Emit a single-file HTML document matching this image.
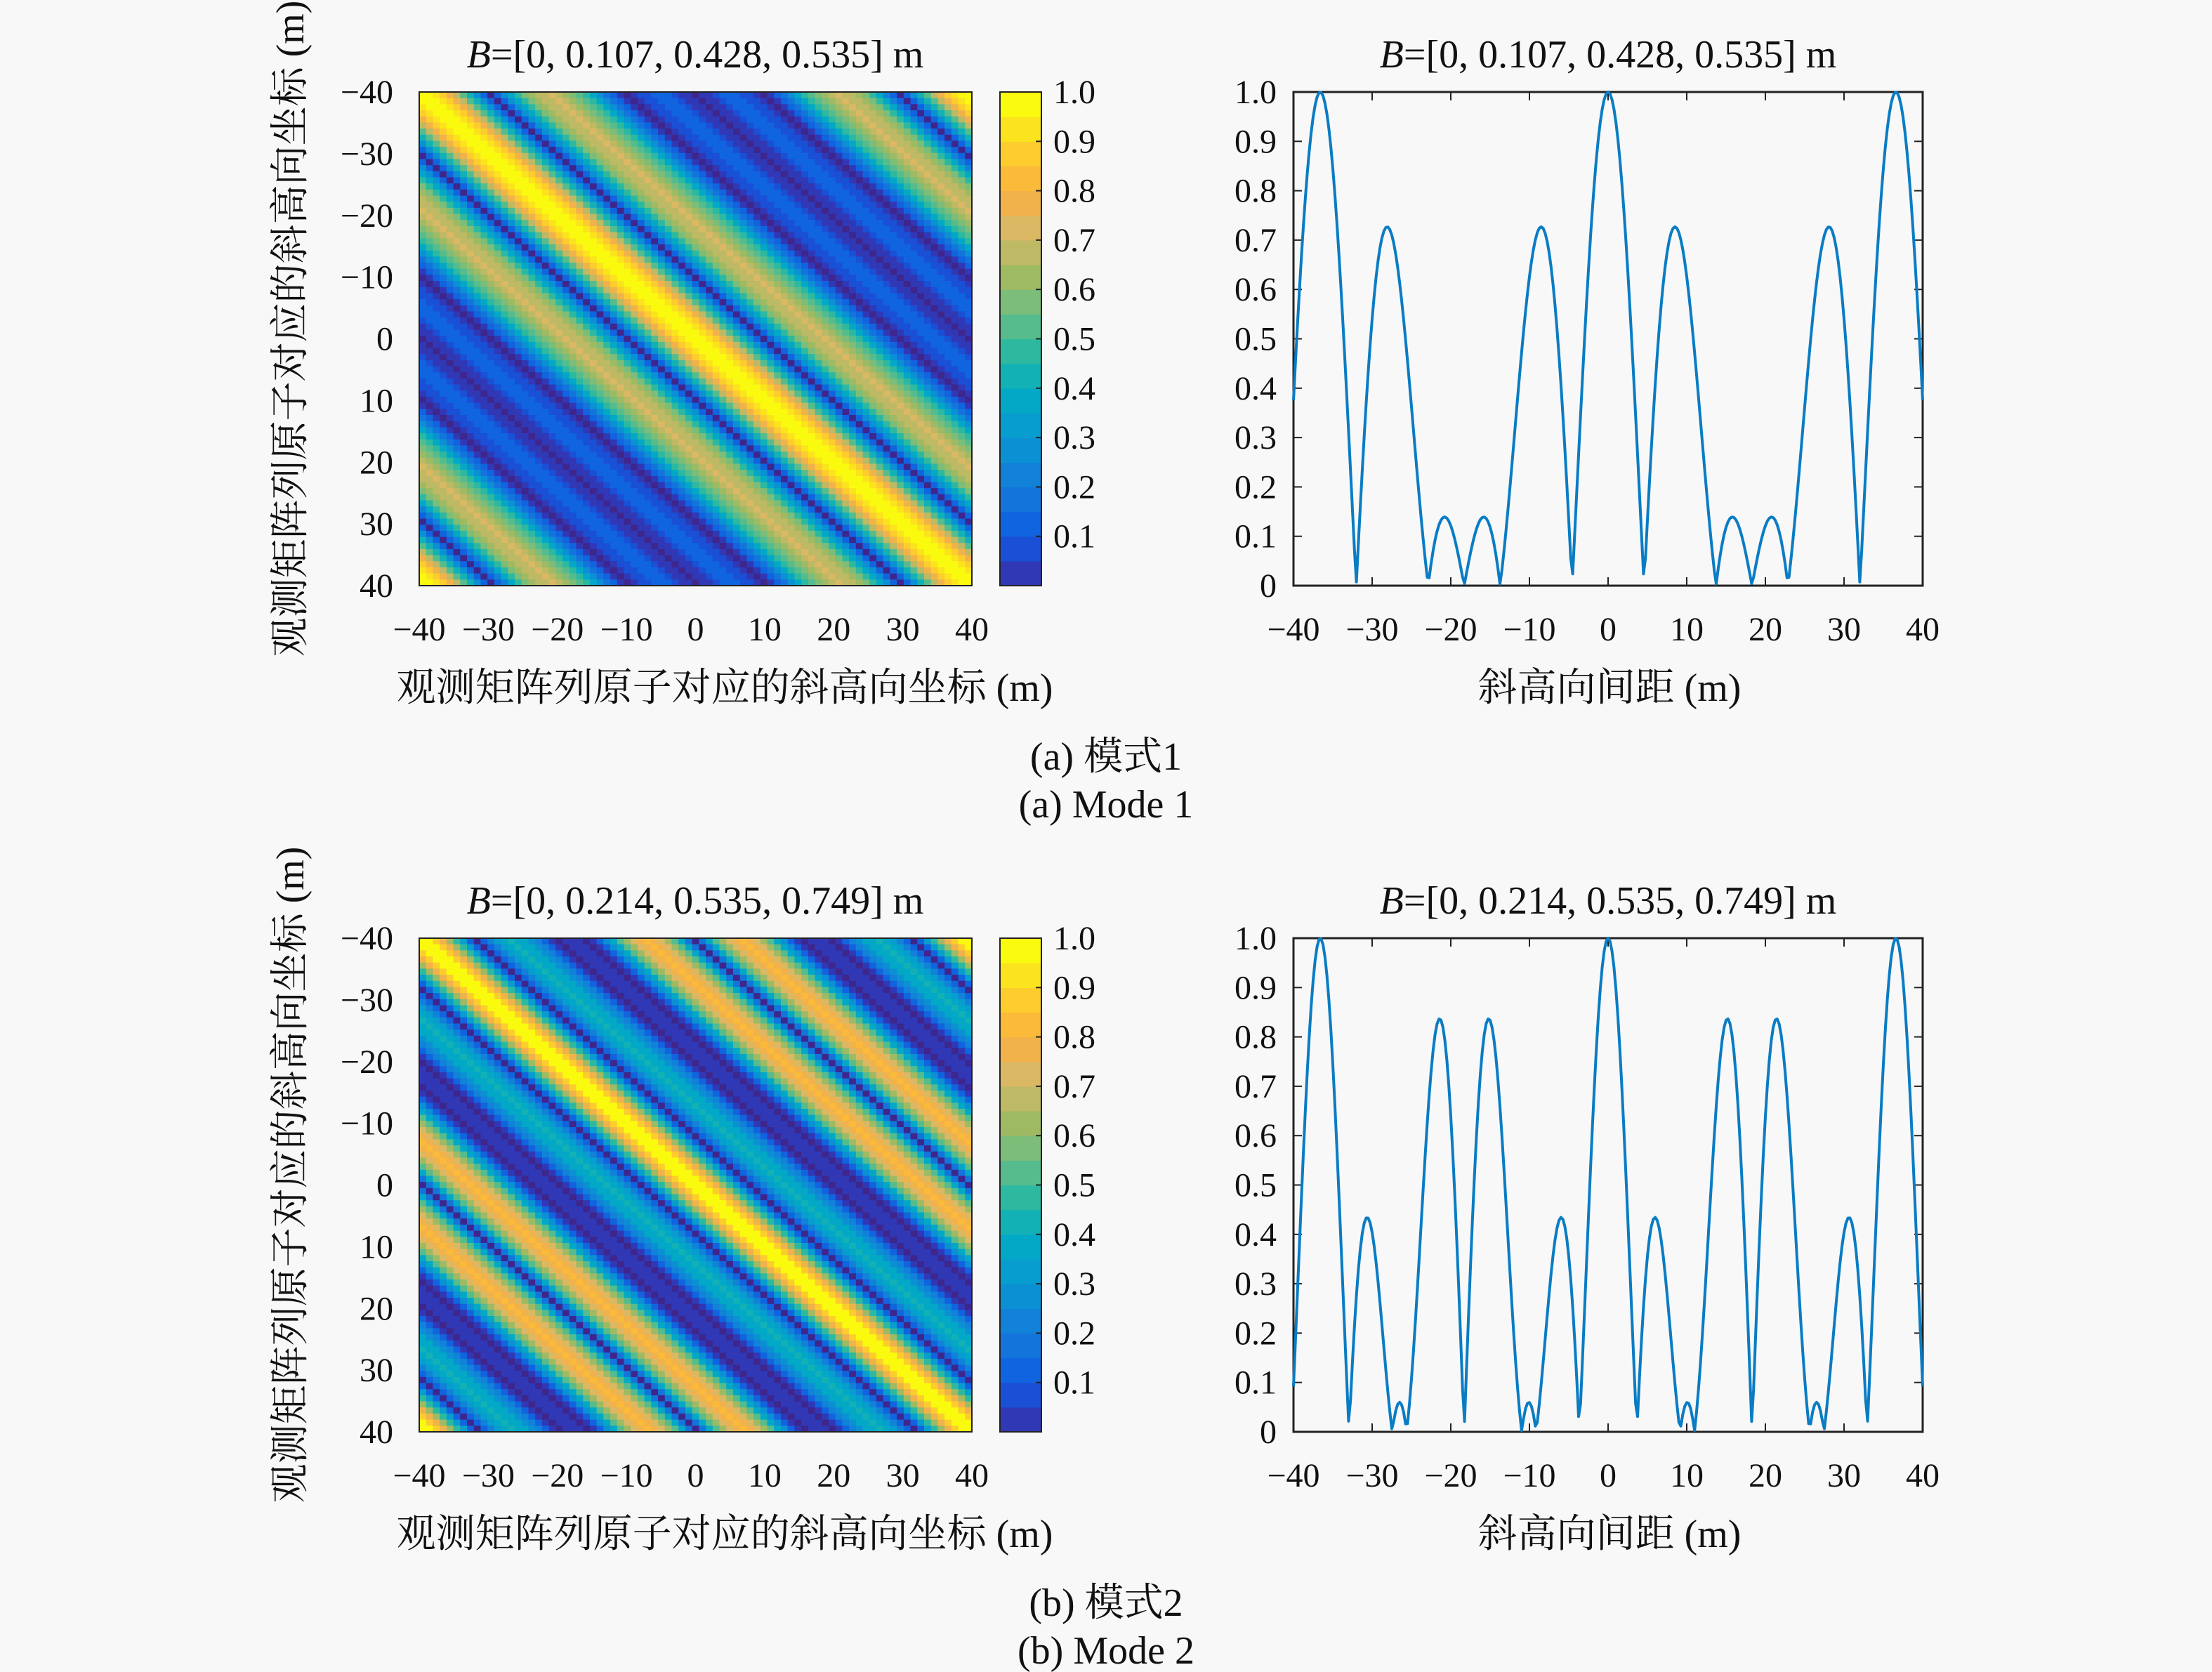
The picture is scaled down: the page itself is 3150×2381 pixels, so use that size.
<!DOCTYPE html>
<html><head><meta charset="utf-8">
<style>
html,body{margin:0;padding:0;background:#f8f8f8;}
svg{display:block;}
text{font-family:"Liberation Serif","Noto Serif CJK SC",serif;fill:#111;}
</style></head>
<body>
<svg id="fig" width="3150" height="2381" viewBox="0 0 3150 2381" xmlns="http://www.w3.org/2000/svg">
<rect x="0" y="0" width="3150" height="2381" fill="#f8f8f8"/>
</svg>
<script>
// ---- data ----
const baselinesMode1 = [0, 0.107, 0.428, 0.535];
const baselinesMode2 = [0, 0.214, 0.535, 0.749];
const titleMode1 = "=[0, 0.107, 0.428, 0.535] m";
const titleMode2 = "=[0, 0.214, 0.535, 0.749] m";
const gridCoords = [];           // heatmap grid (m)
for (let v = -40; v <= 40; v += 1) gridCoords.push(v);
const spacingSamples = [];       // line plot spacings (m)
for (let v = -40; v <= 40.001; v += 0.25) spacingSamples.push(v);
const axisTicks = [-40, -30, -20, -10, 0, 10, 20, 30, 40];
const valueTicks = [0, 0.1, 0.2, 0.3, 0.4, 0.5, 0.6, 0.7, 0.8, 0.9, 1.0];
const valueTickLabels = ["0","0.1","0.2","0.3","0.4","0.5","0.6","0.7","0.8","0.9","1.0"];
const cbTicks = [0.1,0.2,0.3,0.4,0.5,0.6,0.7,0.8,0.9,1.0];
const cbTickLabels = ["0.1","0.2","0.3","0.4","0.5","0.6","0.7","0.8","0.9","1.0"];
const periodScale = 3.916;      // effective wavelength factor
const heatScale = 0.4575;       // heatmap spacing scale

const NS = "http://www.w3.org/2000/svg";
const svg = document.getElementById('fig');
function mk(tag, attrs, parent) {
  const e = document.createElementNS(NS, tag);
  for (const k in attrs) e.setAttribute(k, attrs[k]);
  (parent || svg).appendChild(e);
  return e;
}
function coherence(B, d) {
  let re = 0, im = 0;
  for (const b of B) { const p = 2 * Math.PI * b * d / periodScale; re += Math.cos(p); im += Math.sin(p); }
  return Math.sqrt(re * re + im * im) / B.length;
}
const cmapStops = [
  [0.00,[62,38,140]],[0.06,[45,60,190]],[0.12,[15,90,225]],[0.22,[20,122,218]],
  [0.32,[10,150,210]],[0.42,[0,172,195]],[0.50,[45,185,160]],[0.58,[110,190,130]],
  [0.66,[165,185,95]],[0.74,[215,185,105]],[0.82,[250,175,65]],[0.90,[252,205,45]],[1.00,[250,250,15]]];
function cmap(v) {
  v = Math.round(Math.max(0, Math.min(1, v)) * 20) / 20;
  for (let i = 1; i < cmapStops.length; i++) {
    if (v <= cmapStops[i][0]) {
      const a = cmapStops[i-1], b = cmapStops[i], t = (v - a[0]) / (b[0] - a[0]);
      const c = a[1].map((x, j) => Math.round(x + (b[1][j] - x) * t));
      return `rgb(${c[0]},${c[1]},${c[2]})`;
    }
  }
  return 'rgb(250,250,15)';
}
function txt(x, y, s, attrs, parent) {
  const t = mk('text', Object.assign({x: x, y: y, 'font-size': 48}, attrs || {}), parent);
  t.textContent = s;
  return t;
}
function fmtNeg(v) { return v < 0 ? '\u2212' + Math.abs(v) : String(v); }

function panel(B, title, oy, letter, modeCn, modeEn) {
  const g = mk('g', {});
  
  
  // ---- heatmap ----
  const hx0 = 597, hx1 = 1384, hy0 = 131 + oy, hy1 = 834 + oy;
  const n = gridCoords.length, cw = (hx1 - hx0) / n, ch = (hy1 - hy0) / n;
  const hm = mk('g', {}, g);
  
  
  gridCoords.forEach((yv, i) => {
    gridCoords.forEach((xv, j) => {
      mk('rect', {x: (hx0 + j * cw).toFixed(2), y: (hy0 + i * ch).toFixed(2), width: (cw + 0.6).toFixed(2), height: (ch + 0.6).toFixed(2), fill: cmap(coherence(B, heatScale * (xv - yv)))}, hm);
    });
  });
  const hf = mk('rect', {x: hx0, y: hy0, width: hx1 - hx0, height: hy1 - hy0, fill: 'none', stroke: '#222', 'stroke-width': 2}, g);
  
  
  const hxS = v => hx0 + (v + 40) / 80 * (hx1 - hx0);
  const hyS = v => hy0 + (v + 40) / 80 * (hy1 - hy0);
  axisTicks.forEach(v => {
    const t1 = txt(hxS(v), 912 + oy, fmtNeg(v), {'text-anchor': 'middle'}, g);
    
    
    const t2 = txt(560, hyS(v) + 16, fmtNeg(v), {'text-anchor': 'end'}, g);
    
    
  });
  const ht = txt(990, 96 + oy, '', {'text-anchor': 'middle', 'font-size': 56}, g);
  ht.innerHTML = '<tspan font-style="italic">B</tspan>' + title;
  
  
  const hxl = txt(1032, 998 + oy, '观测矩阵列原子对应的斜高向坐标 (m)', {'text-anchor': 'middle', 'font-size': 56}, g);
  
  
  const hyl = txt(0, 0, '观测矩阵列原子对应的斜高向坐标 (m)', {'text-anchor': 'middle', 'font-size': 56, transform: `translate(432,${468 + oy}) rotate(-90)`}, g);
  
  
  // ---- colorbar ----
  const cx0 = 1424, cx1 = 1483;
  const cb = mk('g', {}, g);
  
  
  for (let k = 0; k < 20; k++) {
    const v0 = k / 20;
    mk('rect', {x: cx0, y: (hy1 - (k + 1) / 20 * (hy1 - hy0)).toFixed(2), width: cx1 - cx0, height: ((hy1 - hy0) / 20 + 0.6).toFixed(2), fill: cmap(v0 + 0.025)}, cb);
  }
  mk('rect', {x: cx0, y: hy0, width: cx1 - cx0, height: hy1 - hy0, fill: 'none', stroke: '#222', 'stroke-width': 2}, cb);
  cbTicks.forEach((v, i) => {
    const y = hy1 - v * (hy1 - hy0);
    mk('line', {x1: cx1 - 8, x2: cx1, y1: y, y2: y, stroke: '#222', 'stroke-width': 2}, cb);
    const l = txt(1500, y + 16, cbTickLabels[i], {}, cb);
    
    
  });
  // ---- line plot ----
  const lx0 = 1842, lx1 = 2738, ly0 = 131 + oy, ly1 = 834 + oy;
  const lxS = v => lx0 + (v + 40) / 80 * (lx1 - lx0);
  const lyS = v => ly1 - v * (ly1 - ly0);
  const lf = mk('rect', {x: lx0, y: ly0, width: lx1 - lx0, height: ly1 - ly0, fill: '#f8f8f8', stroke: '#222', 'stroke-width': 3}, g);
  
  
  axisTicks.forEach(v => {
    const x = lxS(v);
    mk('line', {x1: x, x2: x, y1: ly1, y2: ly1 - 12, stroke: '#222', 'stroke-width': 2}, g);
    mk('line', {x1: x, x2: x, y1: ly0, y2: ly0 + 12, stroke: '#222', 'stroke-width': 2}, g);
    const t = txt(x, 912 + oy, fmtNeg(v), {'text-anchor': 'middle'}, g);
    
    
  });
  valueTicks.forEach((v, i) => {
    const y = lyS(v);
    mk('line', {x1: lx0, x2: lx0 + 12, y1: y, y2: y, stroke: '#222', 'stroke-width': 2}, g);
    mk('line', {x1: lx1, x2: lx1 - 12, y1: y, y2: y, stroke: '#222', 'stroke-width': 2}, g);
    const t = txt(1818, y + 16, valueTickLabels[i], {'text-anchor': 'end'}, g);
    
    
  });
  const pts = spacingSamples.map(d => lxS(d).toFixed(2) + ',' + lyS(coherence(B, d)).toFixed(2)).join(' ');
  const pl = mk('polyline', {points: pts, fill: 'none', stroke: '#0a7cc4', 'stroke-width': 4, 'stroke-linejoin': 'round'}, g);
  
  
  const lt = txt(2290, 96 + oy, '', {'text-anchor': 'middle', 'font-size': 56}, g);
  lt.innerHTML = '<tspan font-style="italic">B</tspan>' + title;
  
  
  const lxl = txt(2292, 998 + oy, '斜高向间距 (m)', {'text-anchor': 'middle', 'font-size': 56}, g);
  
  
  // captions
  const c1 = txt(1575, 1096 + oy, '(' + letter + ') ' + modeCn, {'text-anchor': 'middle', 'font-size': 56}, g);
  
  
  const c2 = txt(1575, 1164 + oy, '(' + letter + ') ' + modeEn, {'text-anchor': 'middle', 'font-size': 56}, g);
  
  
}
panel(baselinesMode1, titleMode1, 0, 'a', '模式1', 'Mode 1');
panel(baselinesMode2, titleMode2, 1205, 'b', '模式2', 'Mode 2');
</script>
</body></html>
